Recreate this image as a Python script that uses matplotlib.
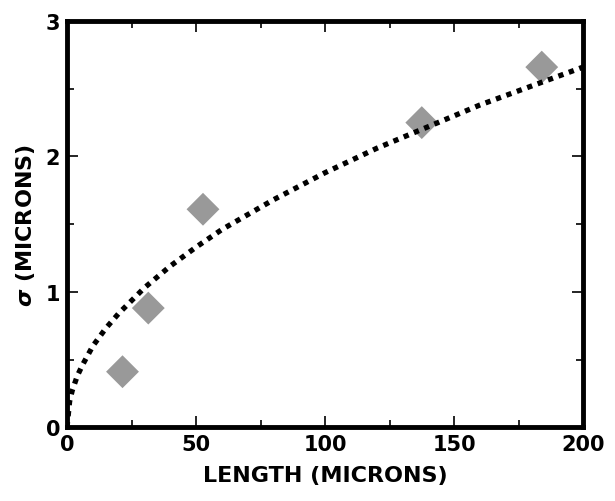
import matplotlib.pyplot as plt
from matplotlib.ticker import MultipleLocator

# Datos medidos (diamantes grises)
length_pts = [21.5, 31.5, 52.7, 137.5, 184.0]
sigma_pts = [0.41, 0.88, 1.61, 2.25, 2.66]

# Curva de ajuste
fit_x = [0, 1, 2, 4, 6, 10, 15, 20, 30, 40, 50, 60, 80, 100, 120, 140, 160, 180, 200]
fit_y = [0, 0.19, 0.27, 0.38, 0.46, 0.60, 0.73, 0.84, 1.03, 1.19, 1.33, 1.46,
         1.68, 1.88, 2.06, 2.22, 2.38, 2.52, 2.66]

plt.rcParams['font.family'] = 'DejaVu Sans'
plt.rcParams['font.weight'] = 'bold'

fig = plt.figure(figsize=(6.15, 5.02), dpi=100)
ax = fig.add_axes([0.109, 0.147, 0.839, 0.809])

ax.plot(fit_x, fit_y, color="black", linewidth=3.8, linestyle=(0, (1, 1.1)),
        dash_capstyle="butt", zorder=3)
ax.scatter(length_pts, sigma_pts, marker="D", s=280, color="#999999",
           edgecolors="none", zorder=2)

ax.set_xlim(0, 200)
ax.set_ylim(0, 3)
ax.xaxis.set_major_locator(MultipleLocator(50))
ax.xaxis.set_minor_locator(MultipleLocator(25))
ax.yaxis.set_major_locator(MultipleLocator(1))
ax.yaxis.set_minor_locator(MultipleLocator(0.5))
ax.tick_params(which="both", direction="in", top=True, right=True,
               width=1.2, labelsize=15)
ax.tick_params(which="major", length=8, pad=5)
ax.tick_params(which="minor", length=5)
for s in ax.spines.values():
    s.set_linewidth(3.5)

ax.set_xlabel("LENGTH (MICRONS)", fontsize=16, fontweight="bold", labelpad=8)
ax.set_ylabel(r"$\sigma$ (MICRONS)", fontsize=16, fontweight="bold", labelpad=6)

fig.savefig("out.png", dpi=100)
